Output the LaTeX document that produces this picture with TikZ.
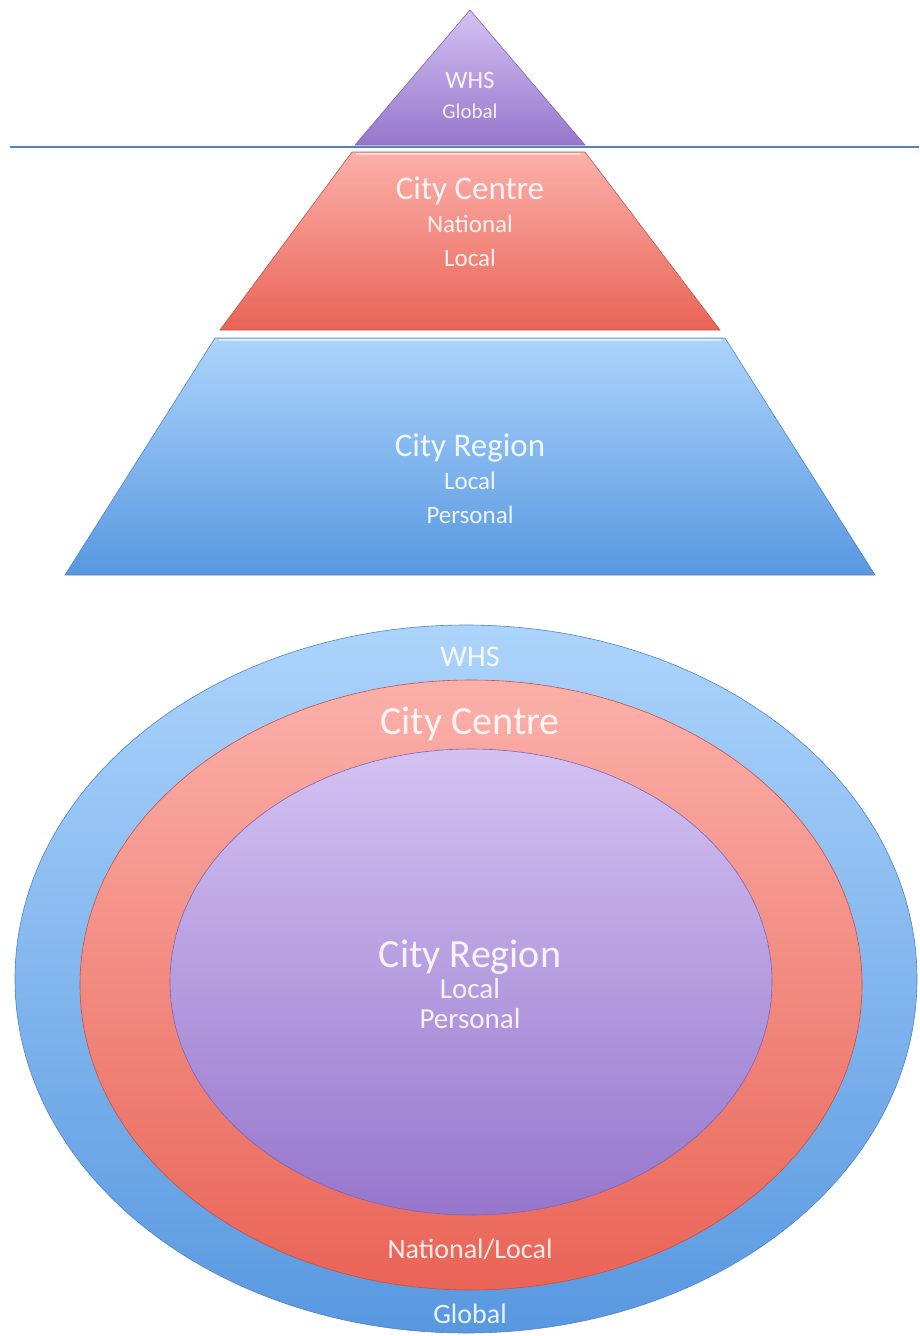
\documentclass[tikz,border=0pt]{standalone}
\usepackage{fontspec}
\setmainfont{Carlito}
\usepackage{tikz}
\usetikzlibrary{positioning}
\definecolor{lilacTop}{RGB}{212,194,242}
\definecolor{lilacBot}{RGB}{150,118,204}
\definecolor{lilacEdge}{RGB}{128,100,180}
\definecolor{roseTop}{RGB}{251,176,170}
\definecolor{roseBot}{RGB}{233,100,86}
\definecolor{roseEdge}{RGB}{200,80,70}
\definecolor{skyTop}{RGB}{172,212,252}
\definecolor{skyBot}{RGB}{88,152,224}
\definecolor{skyEdge}{RGB}{80,130,200}
\definecolor{rule}{RGB}{86,128,182}

\begin{document}
\begin{tikzpicture}[
  x=1pt, y=-1pt,
  node distance=8pt,
  lilac/.style={top color=lilacTop, bottom color=lilacBot, draw=lilacEdge, line width=0.6pt},
  rose/.style={top color=roseTop, bottom color=roseBot, draw=roseEdge, line width=0.6pt},
  sky/.style={top color=skyTop, bottom color=skyBot, draw=skyEdge, line width=0.6pt},
  gloss/.style={white, line width=2pt, opacity=0.6},
  big/.style={text=white, text opacity=0.88, inner sep=0pt,
              text height=22pt, text depth=7pt, font=\fontsize{33}{36}\selectfont},
  sub/.style={text=white, text opacity=0.88, inner sep=0pt,
              text height=18pt, text depth=6pt, font=\fontsize{25}{28}\selectfont},
  ring/.style={text=white, text opacity=0.88, inner sep=0pt,
               text height=27pt, text depth=8pt, font=\fontsize{40}{44}\selectfont}
]
\useasboundingbox (0,0) rectangle (919,1336);

% pyramid
\shade[lilac] (470,10) -- (585,145) -- (355,145) -- cycle;
\coordinate (ruleL) at (10,147);
\coordinate (ruleR) at (919,147);
\draw[rule, line width=2.5pt] (ruleL) -- (ruleR);
\shade[rose] (352,152) -- (585,152) -- (720,330) -- (220,330) -- cycle;
\draw[gloss] (356,154) -- (581,154);
\shade[sky] (215,338) -- (725,338) -- (875,575) -- (65,575) -- cycle;
\draw[gloss] (219,340) -- (721,340);

\node[sub] (pwhs) at (470,82) {WHS};
\node[sub, font=\fontsize{21}{24}\selectfont, below=6pt of pwhs] (pglob) {Global};
\node[big] (pcc) at (470,192) {City Centre};
\node[sub, below=of pcc] (pnat) {National};
\node[sub, below=9pt of pnat] (ploc) {Local};
\node[big] (pcr) at (470,449) {City Region};
\node[sub, below=of pcr] (ploc2) {Local};
\node[sub, below=9pt of ploc2] (ppers) {Personal};

% nested rings
\shade[sky] (466,979) ellipse [x radius=451pt, y radius=354pt];
\shade[rose] (471,985) ellipse [x radius=391pt, y radius=305pt];
\shade[lilac] (471,982) ellipse [x radius=301pt, y radius=233pt];

\node[sub, font=\fontsize{30}{34}\selectfont] (ewhs) at (470,660) {WHS};
\node[ring] (ecc) at (470,725) {City Centre};
\node[ring] (ecr) at (470,958) {City Region};
\node[sub, font=\fontsize{29}{32}\selectfont, below=5pt of ecr] (eloc) {Local};
\node[sub, font=\fontsize{29}{32}\selectfont, below=5pt of eloc] (epers) {Personal};
\node[sub, font=\fontsize{28}{32}\selectfont] (enat) at (470,1252) {National/Local};
\node[sub, font=\fontsize{28}{32}\selectfont] (eglob) at (470,1317) {Global};
\end{tikzpicture}
\end{document}
